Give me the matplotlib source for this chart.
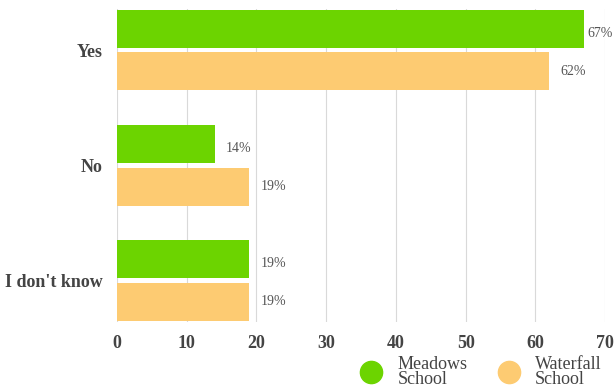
import matplotlib
matplotlib.use("Agg")
import matplotlib.pyplot as plt
import numpy as np
from matplotlib.lines import Line2D

# ============ data ============
categories = ["Yes", "No", "I don't know"]
meadows = [67, 14, 19]
waterfall = [62, 19, 19]
series_names = ["Meadows\nSchool", "Waterfall\nSchool"]
x_ticks = [0, 10, 20, 30, 40, 50, 60, 70]

GREEN = "#6cd400"
ORANGE = "#fdcb72"
TEXT = "#444444"

plt.rcParams["font.family"] = ["Liberation Serif", "DejaVu Serif"]

fig = plt.figure(figsize=(6.15, 3.89), dpi=100)
ax = fig.add_axes([0.190, 0.172, 0.794, 0.806])

y = np.arange(len(categories))
h = 0.33
off = 0.185
ax.barh(y - off, meadows, height=h, color=GREEN, zorder=3)
ax.barh(y + off, waterfall, height=h, color=ORANGE, zorder=3)


def label_pad(v):
    # little room left at the right edge
    return 0.5 if v > 65 else 1.6


for yi, v in zip(y - off, meadows):
    ax.text(v + label_pad(v), yi + 0.04, f"{v}%", va="center", ha="left",
            fontsize=10, color="#555555")
for yi, v in zip(y + off, waterfall):
    ax.text(v + label_pad(v), yi, f"{v}%", va="center", ha="left",
            fontsize=10, color="#555555")

ax.set_xlim(0, 70)
ax.set_ylim(len(categories) - 1 + 0.36, -0.36)
ax.set_xticks(x_ticks)
ax.set_yticks(y)
ax.set_yticklabels(categories)
ax.grid(axis="x", color="#d9d9d9", linewidth=0.8, zorder=0)
for s in ax.spines.values():
    s.set_visible(False)
ax.tick_params(length=0)
ax.tick_params(axis="x", pad=9, labelsize=13, labelcolor=TEXT)
ax.tick_params(axis="y", pad=10, labelsize=13, labelcolor=TEXT)
for lab in ax.get_xticklabels() + ax.get_yticklabels():
    lab.set_fontweight("bold")

handles = [
    Line2D([], [], marker="o", linestyle="", markersize=16,
           markerfacecolor=GREEN, markeredgecolor=GREEN),
    Line2D([], [], marker="o", linestyle="", markersize=16,
           markerfacecolor=ORANGE, markeredgecolor=ORANGE),
]
leg = fig.legend(handles, series_names, loc="lower right", ncol=2,
                 bbox_to_anchor=(1.005, -0.038), frameon=False, fontsize=13,
                 handletextpad=0.45, columnspacing=1.3, labelspacing=0.2)
for t in leg.get_texts():
    t.set_color(TEXT)
    t.set_linespacing(0.8)

fig.savefig("out.png", dpi=100)
